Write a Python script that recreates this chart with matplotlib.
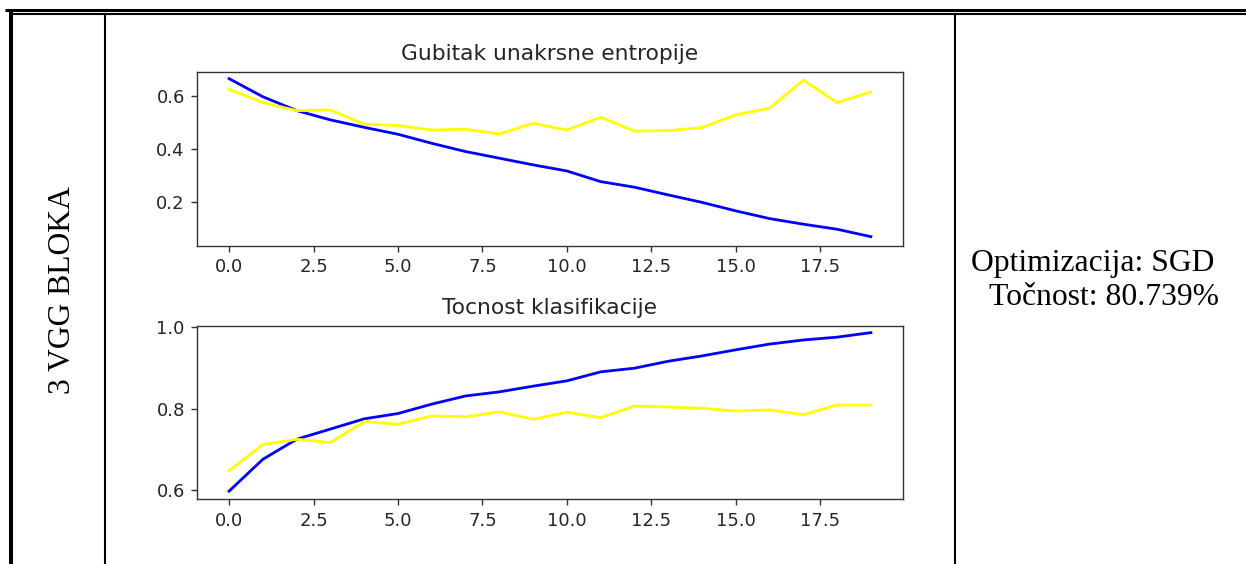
import matplotlib.pyplot as plt
import numpy as np

epochs = list(range(20))

train_loss = [0.665, 0.597, 0.545, 0.510, 0.482, 0.456, 0.422, 0.391, 0.366, 0.341,
              0.318, 0.278, 0.257, 0.228, 0.200, 0.168, 0.139, 0.118, 0.099, 0.071]
val_loss = [0.625, 0.575, 0.545, 0.547, 0.494, 0.489, 0.472, 0.475, 0.457, 0.497,
            0.472, 0.520, 0.468, 0.470, 0.481, 0.529, 0.554, 0.659, 0.575, 0.615]

train_acc = [0.598, 0.676, 0.725, 0.750, 0.775, 0.788, 0.811, 0.831, 0.841, 0.855,
             0.868, 0.890, 0.899, 0.916, 0.929, 0.944, 0.958, 0.968, 0.975, 0.986]
val_acc = [0.648, 0.712, 0.725, 0.717, 0.768, 0.762, 0.782, 0.780, 0.792, 0.774,
           0.791, 0.778, 0.806, 0.804, 0.801, 0.794, 0.797, 0.785, 0.809, 0.809]

titles = ["Gubitak unakrsne entropije", "Tocnost klasifikacije"]
row_label = "3 VGG BLOKA"
info_lines = ["Optimizacija: SGD", "Točnost: 80.739%"]

W, H = 1246, 564
fig = plt.figure(figsize=(W / 100, H / 100), dpi=100)

# table frame drawn in pixel coords on an overlay axes
frame = fig.add_axes([0, 0, 1, 1], zorder=0)
frame.set_xlim(0, W)
frame.set_ylim(H, 0)
frame.axis("off")
frame.plot([5, W], [10, 10], color="black", lw=2.2, solid_capstyle="butt")
frame.plot([13, W], [14, 14], color="black", lw=1.5, solid_capstyle="butt")
frame.plot([11, 11], [9, H], color="black", lw=2.9, solid_capstyle="butt")
frame.plot([105, 105], [14, H], color="black", lw=1.5, solid_capstyle="butt")
frame.plot([955, 955], [14, H], color="black", lw=1.5, solid_capstyle="butt")

serif = "Liberation Serif"
frame.text(62, 290, row_label, rotation=90, ha="center", va="center",
           family=serif, fontsize=22.8, color="black")
frame.text(971, 271, info_lines[0], ha="left", va="baseline",
           family=serif, fontsize=22.8, color="black")
frame.text(989, 305, info_lines[1], ha="left", va="baseline",
           family=serif, fontsize=22.8, color="black")

txt = "#262626"
spine = "#333333"

def style(ax, yticks, ylim, title):
    ax.set_title(title, fontsize=15.7, color=txt, pad=8.5)
    ax.set_xlim(-0.95, 19.95)
    ax.set_ylim(*ylim)
    ax.set_xticks(np.arange(0, 18, 2.5))
    ax.set_xticklabels(["%.1f" % v for v in np.arange(0, 18, 2.5)])
    ax.set_yticks(yticks)
    ax.set_yticklabels(["%.1f" % v for v in yticks])
    ax.tick_params(labelsize=13, colors=spine, labelcolor=txt,
                   length=4.4, width=1.0, pad=4.4)
    for s in ax.spines.values():
        s.set_color(spine)
        s.set_linewidth(1.0)

ax1 = fig.add_axes([197 / W, 1 - 246 / H, 706 / W, 174 / H], zorder=2)
ax1.plot(epochs, train_loss, color="blue", lw=2.0)
ax1.plot(epochs, val_loss, color="yellow", lw=2.0)
style(ax1, [0.2, 0.4, 0.6], (0.036, 0.690), titles[0])

ax2 = fig.add_axes([197 / W, 1 - 499.3 / H, 706 / W, 173.6 / H], zorder=2)
ax2.plot(epochs, train_acc, color="blue", lw=2.0)
ax2.plot(epochs, val_acc, color="yellow", lw=2.0)
style(ax2, [0.6, 0.8, 1.0], (0.578, 1.003), titles[1])

fig.savefig("out.png", dpi=100)
